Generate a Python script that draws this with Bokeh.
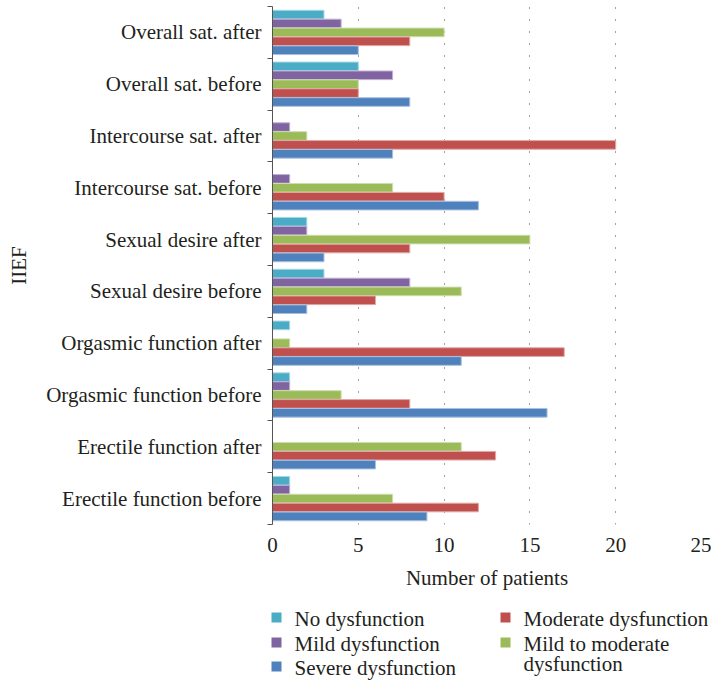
from bokeh.plotting import figure
from bokeh.models import Range1d, FixedTicker, CustomJSTickFormatter, ColumnDataSource
from bokeh.layouts import column
from bokeh.embed import file_html
from bokeh.resources import INLINE
from bokeh.core.properties import value

# ---- data (top-to-bottom order as in the chart) ----
categories = [
    "Overall sat. after", "Overall sat. before",
    "Intercourse sat. after", "Intercourse sat. before",
    "Sexual desire after", "Sexual desire before",
    "Orgasmic function after", "Orgasmic function before",
    "Erectile function after", "Erectile function before",
]
no_dysfunction       = [3, 5, 0, 0, 2, 3, 1, 1, 0, 1]
mild_dysfunction     = [4, 7, 1, 1, 2, 8, 0, 1, 0, 1]
mild_to_moderate     = [10, 5, 2, 7, 15, 11, 1, 4, 11, 7]
moderate_dysfunction = [8, 5, 20, 10, 8, 6, 17, 8, 13, 12]
severe_dysfunction   = [5, 8, 7, 12, 3, 2, 11, 16, 6, 9]
series_names = ["No dysfunction", "Mild dysfunction", "Mild to moderate\ndysfunction",
                "Moderate dysfunction", "Severe dysfunction"]
x_ticks = [0, 5, 10, 15, 20, 25]

series = [no_dysfunction, mild_dysfunction, mild_to_moderate, moderate_dysfunction, severe_dysfunction]
colors = ["#4BACC6", "#8064A2", "#9BBB59", "#C0504D", "#4F81BD"]
edge = ["#a9d8e4", "#c0b0d4", "#cddead", "#e0a8a6", "#a8c0de"]

FONT = "Liberation Serif"
FS = "21px"
TXT = "#231f20"
n = len(categories)
pitch = 0.172

p = figure(width=711, height=592, x_range=Range1d(0, 25), y_range=Range1d(-0.5, n - 0.5),
           output_backend="svg", toolbar_location=None,
           min_border_left=272, min_border_right=10, min_border_top=6, min_border_bottom=62)
p.frame_align = False
p.outline_line_color = None
p.background_fill_color = "white"

for k, vals in enumerate(series):
    ys, xs = [], []
    for i, v in enumerate(vals):
        if v > 0:
            ys.append((n - 1 - i) + (2 - k) * pitch)
            xs.append(v)
    src = ColumnDataSource(dict(y=ys, right=xs))
    p.hbar(y="y", right="right", left=0, height=pitch * 0.97, source=src,
           fill_color=colors[k], line_color=edge[k], line_width=1)

# x axis
p.xaxis.ticker = FixedTicker(ticks=x_ticks)
p.xaxis.axis_line_color = None
p.xaxis.major_tick_line_color = None
p.xaxis.minor_tick_line_color = None
p.xaxis.major_label_standoff = 7
p.xaxis.major_label_text_font = FONT
p.xaxis.major_label_text_font_size = FS
p.xaxis.major_label_text_color = TXT
p.xaxis.axis_label = "Number of patients"
p.xaxis.axis_label_text_font = FONT
p.xaxis.axis_label_text_font_size = FS
p.xaxis.axis_label_text_font_style = "normal"
p.xaxis.axis_label_text_color = TXT
p.xaxis.axis_label_standoff = 11

# grid
p.xgrid.ticker = FixedTicker(ticks=x_ticks[1:])
p.xgrid.grid_line_color = "#444444"
p.xgrid.grid_line_dash = "1 11"
p.xgrid.grid_line_width = 1
p.ygrid.visible = False

# y axis
p.yaxis.ticker = FixedTicker(ticks=list(range(n)), minor_ticks=[k - 0.5 for k in range(n + 1)])
p.yaxis.formatter = CustomJSTickFormatter(args=dict(labels=categories),
                                          code="return labels[labels.length - 1 - Math.round(tick)];")
p.yaxis.major_tick_in = 0
p.yaxis.major_tick_out = 0
p.yaxis.minor_tick_in = 0
p.yaxis.minor_tick_out = 5
p.yaxis.minor_tick_line_color = "#555555"
p.yaxis.axis_line_color = "#555555"
p.yaxis.major_label_standoff = 6
p.yaxis.major_label_text_font = FONT
p.yaxis.major_label_text_font_size = FS
p.yaxis.major_label_text_color = TXT
p.yaxis.axis_label = "IIEF"
p.yaxis.axis_label_text_font = FONT
p.yaxis.axis_label_text_font_size = FS
p.yaxis.axis_label_text_font_style = "normal"
p.yaxis.axis_label_text_color = TXT
p.yaxis.axis_label_standoff = 12

# ---- legend figure ----
LH = 90
lg = figure(width=711, height=LH, x_range=Range1d(0, 711), y_range=Range1d(LH, 0),
            output_backend="svg", toolbar_location=None, min_border=0)
lg.frame_align = False
lg.axis.visible = False
lg.grid.visible = False
lg.outline_line_color = None

legend_order = [0, 1, 4, 3, 2]
col_x = [276, 505]
row_y = [25, 50, 74]
sq_x, sq_y, tx, ty, names, cols = [], [], [], [], [], []
for pos, k in enumerate(legend_order):
    c = 0 if pos < 3 else 1
    r = pos if pos < 3 else pos - 3
    sq_x.append(col_x[c]); sq_y.append(row_y[r])
    tx.append(col_x[c] + 18); ty.append(row_y[r] - 11)
    names.append(series_names[k]); cols.append(colors[k])
lsrc = ColumnDataSource(dict(sx=sq_x, sy=sq_y, tx=tx, ty=ty, name=names, color=cols))
lg.rect(x="sx", y="sy", width=10, height=10, fill_color="color", line_color=None, source=lsrc)
lg.text(x="tx", y="ty", text="name", source=lsrc, text_baseline="top", text_align="left",
        text_font=value(FONT), text_font_size=FS, text_color=TXT, text_line_height=0.85)

layout = column(p, lg, spacing=0)
open("out.html", "w").write(file_html(layout, INLINE))
